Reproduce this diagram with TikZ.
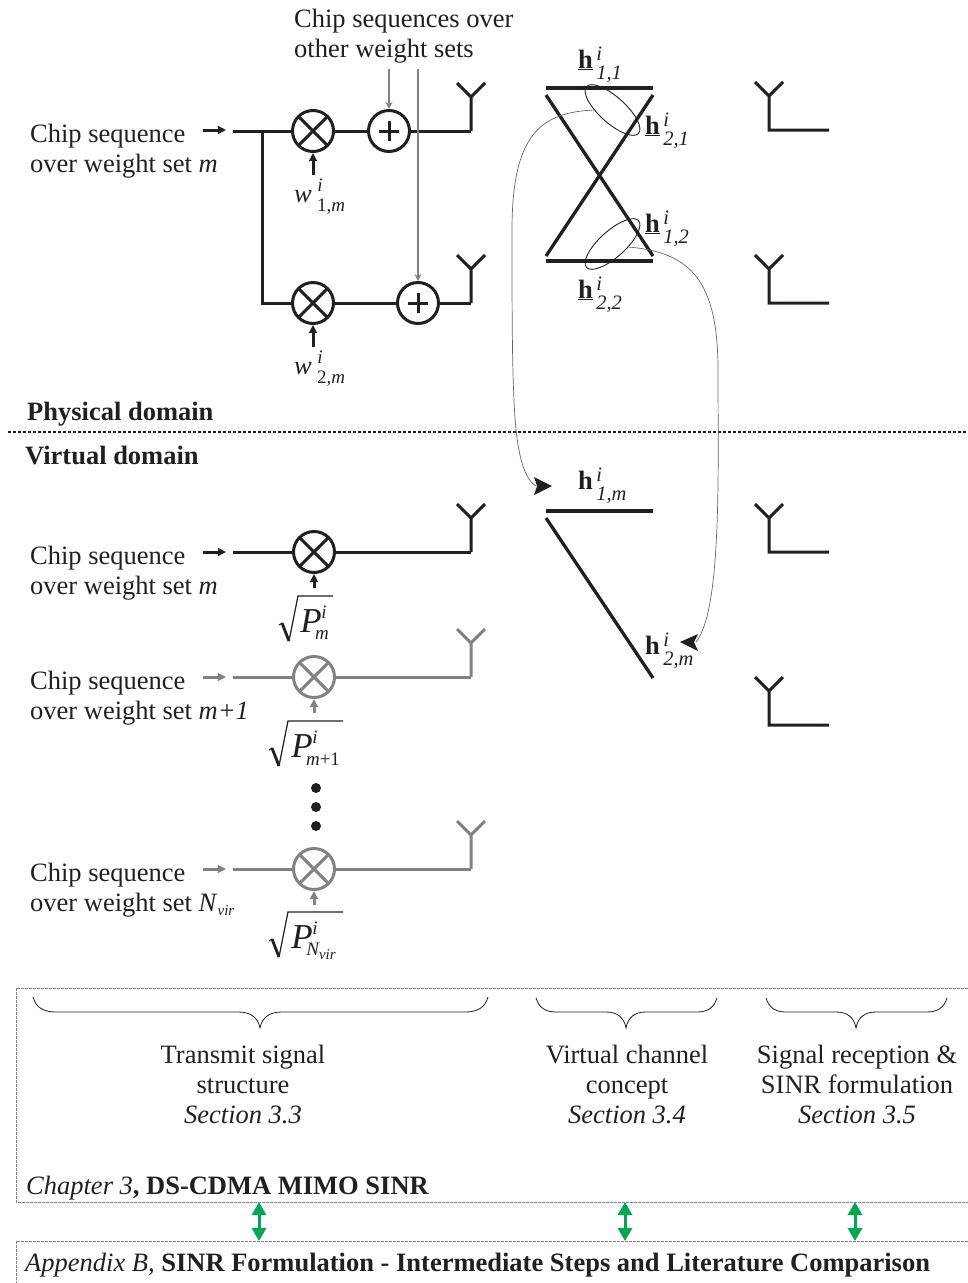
\documentclass[tikz,border=0pt]{standalone}
\usepackage{fontspec}
\setmainfont{Liberation Serif}
\usetikzlibrary{arrows.meta,calc}
\definecolor{ink}{HTML}{231F20}
\definecolor{gry}{HTML}{808285}
\definecolor{grn}{HTML}{00A651}
\newcommand{\bodyf}{\fontsize{26.5}{30}\selectfont}
\newcommand{\subf}{\fontsize{20.5}{20.5}\selectfont\itshape}
\newcommand{\subg}{\fontsize{19}{19}\selectfont\itshape}
\newcommand{\hsub}[2]{\textbf{h}\rlap{\raisebox{8pt}{\subf\,#1}}\raisebox{-11pt}{\subf\,#2}}
\newcommand{\uhsub}[2]{\underline{\textbf{h}}\rlap{\raisebox{8pt}{\subf\,#1}}\raisebox{-11pt}{\subf\,#2}}
\tikzset{
  mainline/.style={line width=3pt,color=ink,line cap=butt},
  chanline/.style={line width=3.3pt,color=ink},
  greyline/.style={line width=3pt,color=gry},
  smallarrow/.style={-{Stealth[length=8pt,width=8pt,inset=0.5pt]}},
  revarrow/.style={{Stealth[length=7pt,width=7pt]}-},
  mixer/.style={circle,draw,minimum size=41pt,inner sep=0pt,line width=3pt,
    path picture={\draw[line width=3pt] (path picture bounding box.north west)--(path picture bounding box.south east)
      (path picture bounding box.north east)--(path picture bounding box.south west);}},
  adder/.style={circle,draw=ink,minimum size=41pt,inner sep=0pt,line width=3pt,
    path picture={\draw[line width=3pt,ink] ([xshift=-10pt]path picture bounding box.center)--([xshift=10pt]path picture bounding box.center)
      ([yshift=-10pt]path picture bounding box.center)--([yshift=10pt]path picture bounding box.center);}},
  txt/.style={font=\bodyf,text=ink,inner sep=0pt,align=left,anchor=west},
  ctxt/.style={font=\bodyf,text=ink,inner sep=0pt,align=center,anchor=center},
  hlab/.style={font=\bodyf,text=ink,inner sep=0pt,anchor=base west},
  subl/.style={font=\subg,text=ink,inner sep=0pt,anchor=center},
  bigp/.style={font=\fontsize{35}{35}\selectfont\itshape,text=ink,inner sep=0pt,anchor=center},
  curve/.style={line width=0.7pt,color=black!60},
  frame/.style={line width=0.8pt,color=gry,dash pattern=on 3pt off 1pt},
  brace/.style={line width=0.8pt,color=ink},
  dblgreen/.style={line width=3pt,color=grn,{Stealth[length=13pt,width=14pt,inset=0pt]}-{Stealth[length=13pt,width=14pt,inset=0pt]}},
}
\newcommand{\antenna}[4]{% name, x, ybase, style
  \coordinate (#1) at (#2,#3);
  \coordinate (#1t) at (#2,#3-34);
  \coordinate (#1l) at (#2-14,#3-48);
  \coordinate (#1r) at (#2+14,#3-48);
  \draw[#4] (#1l)--(#1t)--(#1r) (#1t)--(#1);
}
\newcommand{\receiver}[2]{% name, y
  \coordinate (#1c) at (769,#2);
  \coordinate (#1e) at (829,#2);
  \coordinate (#1t) at (769,#2-34);
  \coordinate (#1l) at (755,#2-48);
  \coordinate (#1r) at (783,#2-48);
  \draw[mainline,line join=miter] (#1e)--(#1c)--(#1t) (#1l)--(#1t)--(#1r);
}
\newcommand{\rootsign}[4]{% x0 (left tick), y-top, x-end, colour
  \draw[line width=1.1pt,#4] (#1,#2+29)--(#1+3,#2+27);
  \draw[line width=2.8pt,#4] (#1+3,#2+27)--(#1+10,#2+45);
  \draw[line width=1.2pt,#4] (#1+10,#2+45)--(#1+19,#2)--(#3,#2);
}
\begin{document}
\begin{tikzpicture}[x=1pt,y=-1pt]
\useasboundingbox (0,0) rectangle (968,1283);
% ---- physical domain, transmitter
\node[txt] (chipA) at (30,151) {Chip sequence\\over weight set \textit{m}};
\node[ctxt,align=left,anchor=north west] (other) at (294,9) {Chip sequences over\\other weight sets};
\coordinate (a1s) at (203,130); \coordinate (a1e) at (226,130);
\draw[mainline,smallarrow] (a1s)--(a1e);
\node[mixer,draw=ink] (m1) at (313,131) {};
\node[adder] (s1) at (389,131) {};
\node[mixer,draw=ink] (m2) at (313,303) {};
\node[adder] (s2) at (418,303) {};
\antenna{tx1}{471}{131}{mainline}
\antenna{tx2}{471}{303}{mainline}
\coordinate (in1) at (233,131);
\coordinate (br) at (262,131);
\coordinate (br2) at (262,303);
\draw[mainline] (in1)--(m1);
\draw[mainline] (br)--(br2)--(m2);
\draw[mainline] (m1)--(s1);
\draw[mainline] (s1)--(tx1);
\draw[mainline] (m2)--(s2);
\draw[mainline] (s2)--(tx2);
\coordinate (g1) at (389,69); \coordinate (g2) at (418,69);
\draw[greyline,line width=2.5pt,revarrow] (s1)--(g1);
\draw[greyline,line width=2.5pt,revarrow] (s2)--(g2);
\coordinate (w1a) at (313,175); \coordinate (w2a) at (313,347);
\draw[mainline,smallarrow] (w1a)--(m1);
\draw[mainline,smallarrow] (w2a)--(m2);
\node[ctxt,font=\bodyf\itshape] (w1) at (303,197) {w};
\node[subl] (w1i) at (320,185) {i};
\node[subl] (w1s) at (331,207) {\upshape 1,\itshape m};
\node[ctxt,font=\bodyf\itshape] (w2) at (303,369) {w};
\node[subl] (w2i) at (320,357) {i};
\node[subl] (w2s) at (331,379) {\upshape 2,\itshape m};
% ---- physical channels
\coordinate (c11a) at (546,88); \coordinate (c11b) at (653,88);
\coordinate (c12a) at (546,95); \coordinate (c12b) at (653,256);
\coordinate (c21a) at (653,95); \coordinate (c21b) at (546,256);
\coordinate (c22a) at (546,261); \coordinate (c22b) at (653,261);
\draw[chanline] (c11a)--(c11b);
\draw[chanline] (c12a)--(c12b);
\draw[chanline] (c21a)--(c21b);
\draw[chanline] (c22a)--(c22b);
\draw[line width=0.9pt,ink,rotate around={-42:(612.5,110)}] (612.5,110) ellipse [x radius=35,y radius=13];
\draw[line width=0.9pt,ink,rotate around={42:(612.5,244)}] (612.5,244) ellipse [x radius=35,y radius=13];
\node[hlab] (h11) at (578,68) {\uhsub{i}{1,1}};
\node[hlab] (h21) at (645,134) {\uhsub{i}{2,1}};
\node[hlab] (h12) at (645,232) {\uhsub{i}{1,2}};
\node[hlab] (h22) at (578,298) {\uhsub{i}{2,2}};
\receiver{r1}{130}
\receiver{r2}{303}
% ---- divider
\coordinate (divl) at (8,432); \coordinate (divr) at (968,432);
\draw[line width=2.6pt,ink,dash pattern=on 2.6pt off 2.4pt] (divl)--(divr);
\node[hlab,font=\bodyf\bfseries] (phys) at (27,420) {Physical domain};
\node[hlab,font=\bodyf\bfseries] (virt) at (25,464) {Virtual domain};
% ---- virtual, transmit chains
\node[txt] (chipB) at (30,573) {Chip sequence\\over weight set \textit{m}};
\coordinate (b1s) at (203,552); \coordinate (b1e) at (226,552);
\draw[mainline,smallarrow] (b1s)--(b1e);
\coordinate (inb) at (233,552);
\node[mixer,draw=ink] (mb) at (314,552) {};
\antenna{txb}{471}{552}{mainline}
\draw[mainline] (inb)--(mb);
\draw[mainline] (mb)--(txb);
\coordinate (pb) at (314,588);
\draw[mainline,smallarrow] (pb)--(mb);
\rootsign{279}{596}{333}{ink}
\node[bigp] (pbP) at (311,621) {P};
\node[subl] (pbi) at (324,612) {i};
\node[subl] (pbm) at (322,635) {m};
%
\node[txt] (chipC) at (30,698) {Chip sequence\\over weight set \textit{m+1}};
\coordinate (c1s) at (203,677); \coordinate (c1e) at (226,677);
\draw[greyline,smallarrow] (c1s)--(c1e);
\coordinate (inc) at (233,677);
\node[mixer,draw=gry] (mc) at (314,677) {};
\antenna{txc}{471}{677}{greyline}
\draw[greyline] (inc)--(mc);
\draw[greyline] (mc)--(txc);
\coordinate (pc) at (314,713);
\draw[greyline,smallarrow] (pc)--(mc);
\rootsign{269}{721}{343}{ink}
\node[bigp] (pcP) at (302,746) {P};
\node[subl] (pci) at (315,737) {i};
\node[subl] (pcm) at (323,759) {m\upshape +1};
%
\fill[ink] (316,788) circle (5) (316,807) circle (5) (316,826) circle (5);
%
\node[txt] (chipD) at (30,890) {Chip sequence\\over weight set \textit{N}\raisebox{-4pt}{\fontsize{15}{15}\selectfont\itshape vir}};
\coordinate (d1s) at (203,869); \coordinate (d1e) at (226,869);
\draw[greyline,smallarrow] (d1s)--(d1e);
\coordinate (ind) at (233,869);
\node[mixer,draw=gry] (md) at (314,869) {};
\antenna{txd}{471}{869}{greyline}
\draw[greyline] (ind)--(md);
\draw[greyline] (md)--(txd);
\coordinate (pd) at (314,905);
\draw[greyline,smallarrow] (pd)--(md);
\rootsign{269}{912}{343}{ink}
\node[bigp] (pdP) at (302,937) {P};
\node[subl] (pdi) at (315,928) {i};
\node[subl] (pdm) at (321,951) {N\raisebox{-4pt}{\fontsize{15}{15}\selectfont vir}};
% ---- virtual channels
\coordinate (v1a) at (546,511); \coordinate (v1b) at (653,511);
\coordinate (v2a) at (546,518); \coordinate (v2b) at (653,678);
\draw[chanline] (v1a)--(v1b);
\draw[chanline] (v2a)--(v2b);
\node[hlab] (h1m) at (578,489) {\hsub{i}{1,m}};
\node[hlab] (h2m) at (645,654) {\hsub{i}{2,m}};
\receiver{r3}{552}
\receiver{r4}{725}
% ---- mapping curves
\coordinate (e1) at (595,110); \coordinate (t1) at (536,486);
\coordinate (e2) at (628,247); \coordinate (t2) at (696,642);
\draw[curve] (e1) .. controls (540,112) and (512,135) .. (512,230)
  .. controls (512,300) and (512,360) .. (514,400)
  .. controls (516,450) and (523,478) .. (t1);
\draw[curve] (e2) .. controls (690,252) and (718,280) .. (718,370)
  .. controls (718,470) and (722,610) .. (t2);
\fill[ink] (552,486)--(534,477)--(537,486)--(534,495)--cycle;
\fill[ink] (680,642)--(698,634)--(694,642)--(698,651)--cycle;
% ---- chapter frame
\coordinate (fa) at (968,988); \coordinate (fb) at (16,988); \coordinate (fc) at (16,1202); \coordinate (fd) at (968,1202);
\draw[frame] (fa)--(fb)--(fc)--(fd);
\draw[brace] (33,997) .. controls (36,1008) and (44,1012) .. (56,1012)
  -- (238,1012) .. controls (250,1012) and (258,1017) .. (260,1028)
  .. controls (262,1017) and (270,1012) .. (282,1012)
  -- (465,1012) .. controls (477,1012) and (485,1008) .. (488,997);
\draw[brace] (536,998) .. controls (539,1008) and (546,1012) .. (556,1012)
  -- (606,1012) .. controls (617,1012) and (624,1017) .. (626,1028)
  .. controls (628,1017) and (635,1012) .. (646,1012)
  -- (697,1012) .. controls (707,1012) and (714,1008) .. (717,998);
\draw[brace] (766,998) .. controls (769,1008) and (776,1012) .. (786,1012)
  -- (836,1012) .. controls (847,1012) and (854,1017) .. (856,1028)
  .. controls (858,1017) and (865,1012) .. (876,1012)
  -- (927,1012) .. controls (937,1012) and (944,1008) .. (947,998);
\node[ctxt] (ss1) at (243,1084) {Transmit signal\\structure\\\textit{Section 3.3}};
\node[ctxt] (ss2) at (627,1084) {Virtual channel\\concept\\\textit{Section 3.4}};
\node[ctxt] (ss3) at (857,1084) {Signal reception \&\\SINR formulation\\\textit{Section 3.5}};
\node[hlab] (chap) at (26,1194) {\textit{Chapter 3}\textbf{, DS-CDMA MIMO SINR}};
% ---- appendix frame
\coordinate (ga) at (968,1241); \coordinate (gb) at (16,1241); \coordinate (gc) at (16,1283);
\draw[frame] (ga)--(gb)--(gc);
\node[hlab] (app) at (25,1271) {\textit{Appendix B,} \textbf{SINR Formulation - Intermediate Steps and Literature Comparison}};
\coordinate (u1) at (259,1202); \coordinate (l1) at (259,1241);
\coordinate (u2) at (625,1202); \coordinate (l2) at (625,1241);
\coordinate (u3) at (855,1202); \coordinate (l3) at (855,1241);
\draw[dblgreen] (u1)--(l1);
\draw[dblgreen] (u2)--(l2);
\draw[dblgreen] (u3)--(l3);
\end{tikzpicture}
\end{document}
